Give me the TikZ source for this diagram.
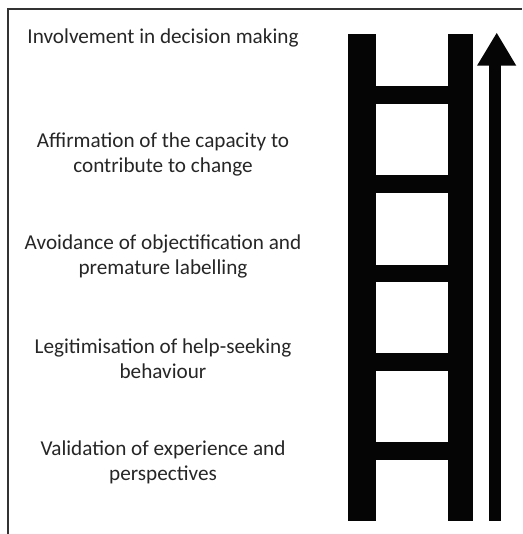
\documentclass[tikz,border=0pt]{standalone}
\usepackage{fontspec}
\setmainfont{Carlito}
\tikzset{
  step label/.style={align=center, text=black!85, font=\fontsize{21.2}{25}\selectfont, inner sep=0pt},
  ink/.style={fill=black!98, draw=none}
}
\begin{document}
\begin{tikzpicture}[x=1pt, y=-1pt]
      \useasboundingbox (0,0) rectangle (522,534);
      \draw[line width=1.3pt, black!80] (8,534) -- (8,9) -- (522,9);
      \draw
        (163,38) node[step label] (s5){Involvement in decision making}
        (163,154) node[step label] (s4){Affirmation of the capacity to\\contribute to change}
        (163,256.5) node[step label] (s3){Avoidance of objectification and\\premature labelling}
        (163,359) node[step label] (s2){Legitimisation of help-seeking\\behaviour}
        (163,462.5) node[step label] (s1){Validation of experience and\\perspectives};
      \begin{scope}[ink]
        % rails
        \fill (347.7,33.7) rectangle (375.7,520.7);
        \fill (447.7,33.7) rectangle (473.3,520.7);
        % rungs
        \foreach \y in {86,175.3,264.7,353.3,442.3}
          \fill (375,\y) rectangle (448.5,\y+17.7);
        % arrow
        \fill (489,64) rectangle (501.3,521);
        \fill (477,65.7) -- (516.3,65.7) -- (496.7,33) -- cycle;
      \end{scope}
    \end{tikzpicture}
\end{document}
